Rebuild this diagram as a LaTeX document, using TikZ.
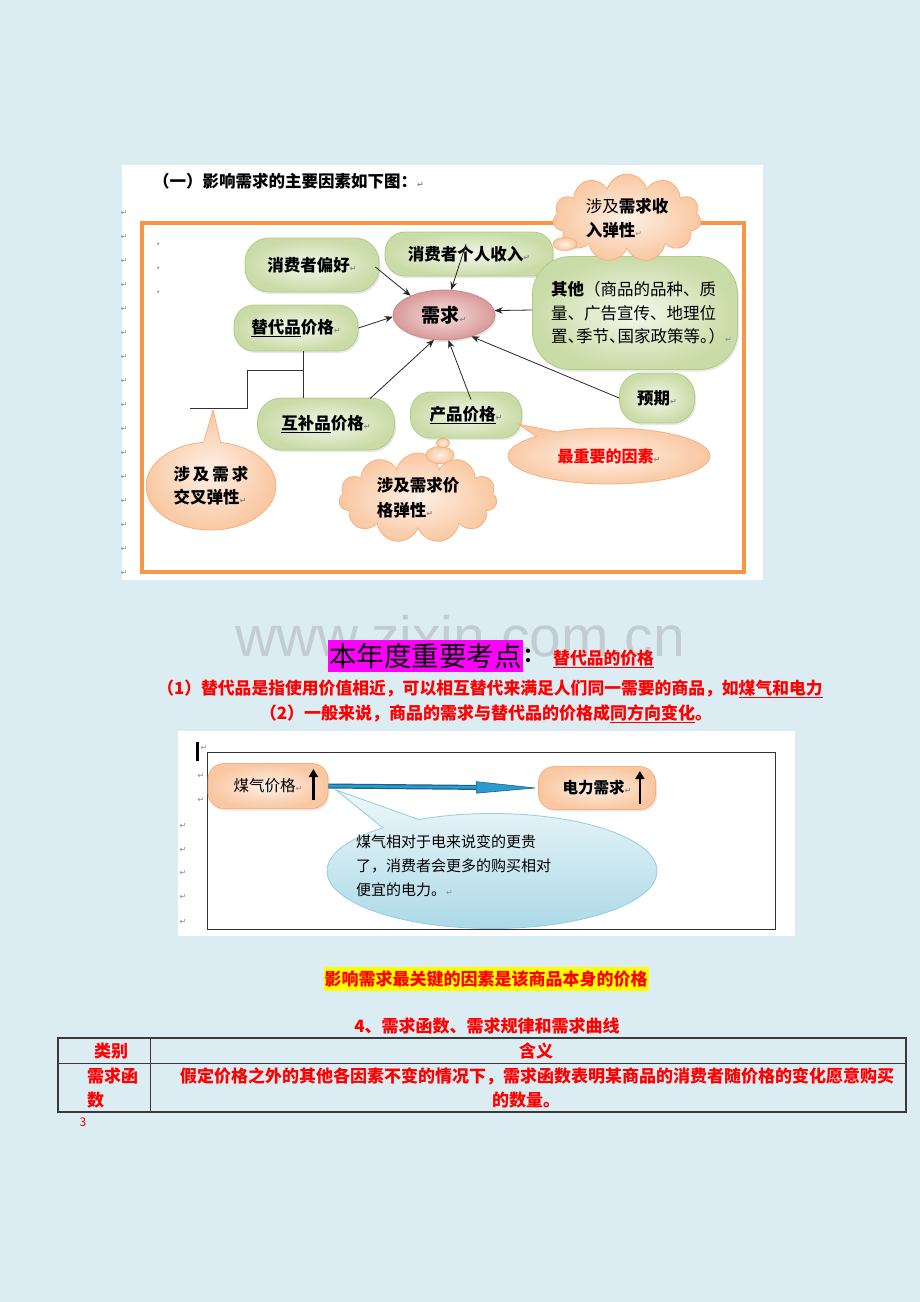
\documentclass[tikz,border=0pt]{standalone}
\usepackage{fontspec}
\setmainfont{Noto Sans CJK SC}
\newfontfamily\dejavu{DejaVu Sans}
\newfontfamily\wmfont{Liberation Sans}
\usetikzlibrary{shapes.geometric,shapes.symbols,shapes.callouts,arrows.meta,shadows,calc}
\definecolor{bg}{HTML}{DBEDF3}
\definecolor{frameor}{HTML}{F79646}
\definecolor{gin}{HTML}{F4F8EC}
\definecolor{gout}{HTML}{C9DBA6}
\definecolor{gedge}{HTML}{B3CB85}
\definecolor{pkin}{HTML}{F6DEDD}
\definecolor{pkout}{HTML}{D9999A}
\definecolor{pkedge}{HTML}{C98B8A}
\definecolor{pchin}{HTML}{FEF0E6}
\definecolor{pchout}{HTML}{F9C7A0}
\definecolor{pchedge}{HTML}{F4B183}
\definecolor{blin}{HTML}{EEF7FA}
\definecolor{blout}{HTML}{A8D8E6}
\definecolor{bledge}{HTML}{93CDDD}
\definecolor{rd}{HTML}{FF0000}
\definecolor{mag}{HTML}{FF00FF}
\definecolor{ylw}{HTML}{FFFF00}
\definecolor{retc}{HTML}{8A8A8A}
\definecolor{wm}{HTML}{C3CDD1}
\definecolor{tline}{HTML}{3A3A3A}
\definecolor{arrblue}{HTML}{2A9BD0}
\definecolor{arrdark}{HTML}{1D5F80}
\newcommand\fsz[1]{\fontsize{#1}{#1}\selectfont}
\newcommand\fszb[2]{\fontsize{#1}{#2}\selectfont}
\newcommand\retmark{{\dejavu\fontsize{8}{8}\selectfont\color{retc}↵}}
\begin{document}
\begin{tikzpicture}[x=1pt,y=-1pt,
  gnode/.style={draw=gedge, line width=0.8pt, inner color=gin, outer color=gout,
    rounded corners=#1, inner sep=0pt, font=\fsz{16.5}\bfseries,
    drop shadow={shadow xshift=1.5pt, shadow yshift=-2pt, opacity=0.18}},
  gnode/.default=20pt,
  pnode/.style={draw=pchedge, line width=0.8pt, inner color=pchin, outer color=pchout,
    rounded corners=16pt, inner sep=0pt,
    drop shadow={shadow xshift=1.5pt, shadow yshift=-2pt, opacity=0.18}},
  pshape/.style={draw=pchedge, line width=0.8pt, inner color=pchin, outer color=pchout, inner sep=0pt},
  conn/.style={-{Stealth[length=8pt,width=6.5pt]}, line width=0.8pt, black!85},
  stair/.style={line width=1pt, black!80},
  retnode/.style={font=\dejavu\fsz{8}, text=retc, inner sep=0pt},
  redtxt/.style={text=rd, inner sep=0pt, font=\fsz{16.8}\bfseries},
  uparr/.style={line width=2.6pt, black, -{Triangle[length=8pt,width=9pt]}},
]
\useasboundingbox (0,0) rectangle (920,1302);
\fill[bg] (0,0) rectangle (920,1302);

% ================= top panel =================
\fill[white] (122,165) rectangle (763,580);
\node[anchor=west, inner sep=0pt, font=\fsz{16.5}\bfseries] (hdr) at (153,181) {（一）影响需求的主要因素如下图：\retmark};
\foreach \yy in {213,237,...,573} \node[retnode] (lm\yy) at (124,\yy) {↵};
\foreach \yy in {244,268,292} \node[retnode, font=\dejavu\fsz{5}] (tri\yy) at (158,\yy) {◂};
\draw[frameor, line width=4pt] (142,223) rectangle (744,572);

\node[gnode=24pt, minimum width=134pt, minimum height=54pt] (pref) at (312,265) {消费者偏好\retmark};
\node[gnode=20pt, minimum width=168pt, minimum height=44pt] (inc) at (469,254) {消费者个人收入\retmark};
\node[gnode=38pt, minimum width=205pt, minimum height=113pt, text width=168pt, align=left, font=\fszb{16.5}{23.5}] (oth) at (635,313)
  {\textbf{其他}（商品的品种、质\\量、广告宣传、地理位\\置、\kern-8pt季节、\kern-8pt国家政策等。\kern-8pt）\retmark};
\node[ellipse, draw=pkedge, line width=0.8pt, inner color=pkin, outer color=pkout, minimum width=102pt, minimum height=50pt, inner sep=0pt, font=\fsz{19}\bfseries,
  drop shadow={shadow xshift=1.5pt, shadow yshift=-2pt, opacity=0.18}] (dem) at (444,315) {需求\retmark};
\node[gnode, minimum width=124pt, minimum height=46pt] (sub) at (296,328) {\underline{替代品}价格\retmark};
\node[gnode=24pt, minimum width=137pt, minimum height=52pt] (comp) at (326,424) {\underline{互补品}价格\retmark};
\node[gnode, minimum width=111pt, minimum height=46pt] (prod) at (466,415) {\underline{产品价格}\retmark};
\node[gnode=22pt, minimum width=75pt, minimum height=50pt] (exp) at (657,398) {预期\retmark};

\node[cloud, cloud puffs=11, cloud ignores aspect, pshape, minimum width=148pt, minimum height=88pt, align=left, font=\fszb{16.5}{24}] (cinc) at (627,218)
  {涉及\textbf{需求收}\\\textbf{入弹性}\retmark};
\node[ellipse, pshape, minimum width=24pt, minimum height=13pt] (bi1) at (565,244) {};

\node[cloud, cloud puffs=11, cloud ignores aspect, pshape, minimum width=158pt, minimum height=90pt, align=left, font=\fszb{16.5}{25}\bfseries] (cprice) at (418,498)
  {涉及需求价\\格弹性\retmark};
\node[ellipse, pshape, minimum width=28pt, minimum height=17pt] (bp1) at (440,455) {};
\node[ellipse, pshape, minimum width=13pt, minimum height=9pt] (bp2) at (443,443) {};

\node[ellipse callout, callout absolute pointer={(213,410)}, pshape, minimum width=130pt, minimum height=88pt, align=left, font=\fszb{16.5}{23}\bfseries] (ccross) at (211,486)
  {涉\hspace{3pt}及\hspace{3pt}需\hspace{3pt}求\\交叉弹性\retmark};
\node[ellipse callout, callout absolute pointer={(518,424)}, pshape, minimum width=202pt, minimum height=56pt, font=\fsz{16}\bfseries, text=rd] (cimp) at (609,456)
  {最重要的因素\retmark\hspace{20pt}};

\draw[conn] ($(pref.east)+(-4,2)$) -- (dem.150);
\draw[conn] ($(inc.center)+(-3,-10)$) -- (dem.74);
\draw[conn] (sub.east) -- (dem.182);
\draw[conn] ($(oth.west)+(0,-3)$) -- (dem.5);
\draw[conn] (exp.west) -- (dem.-38);
\draw[conn] ($(prod.north)+(5,8)$) -- (dem.-80);
\draw[conn] ($(comp.north)+(44,1)$) -- (dem.-112);
\draw[stair] ($(sub.south)+(7,0)$) -- ($(comp.north)+(-23,0)$);
\coordinate (s1) at (303,370);
\coordinate (s3) at (247,408);
\coordinate (s2) at (190,408);
\draw[stair] (s1) -| (s3) -- (s2);

% ================= middle text =================
\node[font=\wmfont\fsz{57}, text=wm, inner sep=0pt] (wmk) at (460,636) {www.zixin.com.cn};
\node[fill=mag, inner xsep=1.5pt, inner ysep=0pt, minimum height=32pt, font=\fsz{27.5}] (kd) at (425.5,656) {本年度重要考点};
\node[anchor=west, font=\fsz{20}\bfseries, inner sep=0pt] (colon) at (kd.east) {：};
\node[anchor=base west, redtxt] (sp) at (553,664) {\underline{替代品的价格}};
\node[redtxt] (l1) at (490,689) {（1）替代品是指使用价值相近，可以相互替代来满足人们同一需要的商品，如\underline{煤气和电力}};
\node[redtxt, font=\fsz{17}\bfseries] (l2) at (486,714) {（2）一般来说，商品的需求与替代品的价格成\underline{同方向变化}。};

% ================= second panel =================
\fill[white] (178,731) rectangle (795,936);
\draw[black!80, line width=1pt] (207,752) rectangle (775,929);
\fill[black] (196,742) rectangle (198.5,761);
\node[retnode] (cur) at (204,748) {↵};
\foreach \yy in {776,800} \node[retnode] (ma\yy) at (201,\yy) {↵};
\foreach \yy in {826,850,873,897,922} \node[retnode] (mb\yy) at (183,\yy) {↵};

\node[pnode, minimum width=120pt, minimum height=45pt, font=\fsz{15.5}] (gas) at (268,786) {煤气价格\retmark\hspace{24pt}};
\node[pnode, minimum width=117pt, minimum height=43pt, font=\fsz{15.5}\bfseries] (elec) at (597,788) {电力需求\retmark\hspace{24pt}};
\draw[uparr] ($(gas.east)+(-15,14)$) -- ($(gas.east)+(-15,-17)$);
\draw[uparr] ($(elec.east)+(-16,16)$) -- ($(elec.east)+(-16,-17)$);

\draw[arrdark, line width=5pt, -{Stealth[length=62pt,width=12pt,inset=0pt,fill=arrblue,line width=0.6pt]}] (gas.east) -- (elec.west);
\draw[arrblue, line width=2.6pt, shorten >=62pt] (gas.east) -- (elec.west);

\node[ellipse callout, callout absolute pointer={(336,790)}, draw=bledge, line width=0.8pt, top color=blin, bottom color=blout, minimum width=330pt, minimum height=115pt, inner sep=0pt] (bub) at (492,871) {};
\node[anchor=west, align=left, inner sep=0pt, font=\fszb{15}{24}] (bubtxt) at (356,866)
  {煤气相对于电来说变的更贵\\了，消费者会更多的购买相对\\便宜的电力。\retmark};

% ================= bottom =================
\node[fill=ylw, inner xsep=1pt, inner ysep=0pt, minimum height=24pt, font=\fsz{17}\bfseries, text=rd] (key) at (486,979) {影响需求最关键的因素是该商品本身的价格};
\node[redtxt, font=\fsz{17}\bfseries] (t4) at (487,1026) {4、需求函数、需求规律和需求曲线};
\draw[tline, line width=1.3pt] (58,1038) rectangle (906,1112);
\draw[tline, line width=1pt] (150,1038) -- (150,1112);
\draw[tline, line width=1pt] (58,1063) -- (906,1063);
\node[redtxt, font=\fsz{17}\bfseries] (c1) at (111,1051) {类别};
\node[redtxt, font=\fsz{17}\bfseries] (c2) at (536,1051) {含义};
\node[redtxt, font=\fsz{17}\bfseries, anchor=west] (r1a) at (87,1076) {需求函};
\node[redtxt, font=\fsz{17}\bfseries, anchor=west] (r1b) at (87,1100) {数};
\node[redtxt, font=\fsz{17}\bfseries, anchor=west] (r2a) at (180,1076) {假定价格之外的其他各因素不变的情况下，需求函数表明某商品的消费者随价格的变化愿意购买};
\node[redtxt, font=\fsz{17}\bfseries] (r2b) at (526,1100) {的数量。};
\node[text=rd, inner sep=0pt, font=\fsz{12}] (pg) at (83,1122) {3};
\end{tikzpicture}
\end{document}
